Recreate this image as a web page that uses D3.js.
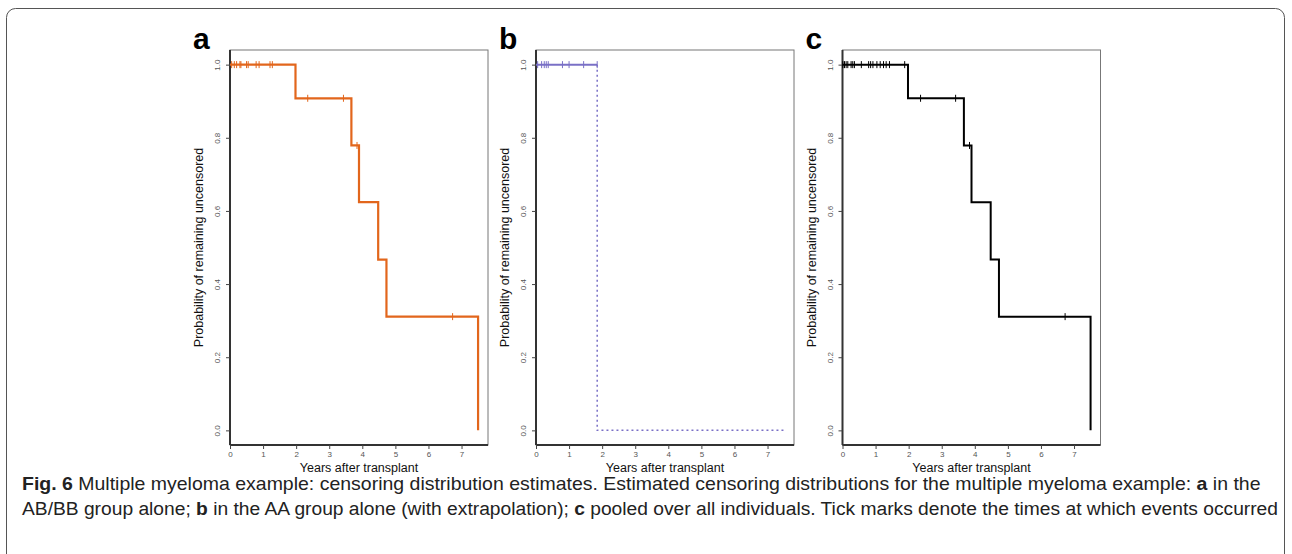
<!DOCTYPE html>
<html>
<head>
<meta charset="utf-8">
<script src="https://cdn.jsdelivr.net/npm/d3@7"></script>
<style>
  body { margin: 0; background: #fff; }
  svg { display: block; }
</style>
</head>
<body>
<div id="chart"></div>
<script>
// panel a: AB/BB group
const aTimes = [0, 1.98, 3.67, 3.9, 4.48, 4.73, 7.5];
const aSurv = [1, 0.908, 0.779, 0.624, 0.467, 0.311, 0];
const aCensorT = [0.05, 0.13, 0.2, 0.3, 0.33, 0.5, 0.55, 0.79, 0.88, 1.21, 1.28, 2.35, 3.43, 3.84, 6.73];

// panel b: AA group (extrapolated after last time)
const bTimes = [0, 1.85];
const bSurv = [1, 1];
const bExtraTimes = [1.85, 1.85, 7.5];
const bExtraSurv = [1, 0, 0];
const bCensorT = [0.05, 0.17, 0.25, 0.31, 0.37, 0.8, 1.0, 1.44, 1.85];

// panel c: pooled
const cTimes = aTimes;
const cSurv = aSurv;
const cCensorT = [0.01, 0.06, 0.11, 0.16, 0.26, 0.31, 0.36, 0.57, 0.79, 0.85, 0.92, 1.04, 1.14, 1.24, 1.32, 1.42, 1.88, 2.36, 3.42, 3.84, 6.73];

const xTicks = [0, 1, 2, 3, 4, 5, 6, 7];
const yTicks = [0, 0.2, 0.4, 0.6, 0.8, 1.0];

const W = 1292, H = 554;
const svg = d3.select("#chart").append("svg").attr("width", W).attr("height", H);

// outer frame
svg.append("rect")
  .attr("x", 6.5).attr("y", 8.5).attr("width", 1278).attr("height", 580)
  .attr("rx", 9).attr("fill", "none").attr("stroke", "#555").attr("stroke-width", 1);

function stepValue(times, surv, t) {
  let v = surv[0];
  for (let i = 0; i < times.length; i++) if (times[i] <= t) v = surv[i];
  return v;
}

function drawPanel(left, letter, cfg) {
  const top = 50, bottom = 445, width = 258;
  const x = d3.scaleLinear().domain([0, 7.8]).range([left, left + width]);
  const y = d3.scaleLinear().domain([-0.04, 1.04]).range([bottom, top]);
  const g = svg.append("g");

  // box
  g.append("rect").attr("x", left).attr("y", top).attr("width", width).attr("height", bottom - top)
    .attr("fill", "none").attr("stroke", "#777").attr("stroke-width", 1);

  // y axis
  const yAxis = g.append("g").attr("transform", `translate(${left},0)`)
    .call(d3.axisLeft(y).tickValues(yTicks).tickFormat(d3.format(".1f")).tickSize(4).tickPadding(0));
  yAxis.select(".domain").attr("d", `M0,${top}V${bottom}`).attr("stroke", "#333").attr("stroke-width", 2);
  yAxis.selectAll(".tick line").attr("stroke", "#444");
  yAxis.selectAll(".tick text")
    .attr("x", 0).attr("dy", null)
    .attr("transform", "translate(-10,0) rotate(-90)")
    .attr("text-anchor", "middle")
    .attr("font-family", "Liberation Sans, Arial, sans-serif")
    .attr("font-size", 8).attr("fill", "#555");

  // x axis
  const xAxis = g.append("g").attr("transform", `translate(0,${bottom})`)
    .call(d3.axisBottom(x).tickValues(xTicks).tickFormat(d3.format("d")).tickSize(4).tickPadding(2));
  xAxis.select(".domain").attr("d", `M${left},0H${left + width}`).attr("stroke", "#333").attr("stroke-width", 2);
  xAxis.selectAll(".tick line").attr("stroke", "#444");
  xAxis.selectAll(".tick text")
    .attr("font-family", "Liberation Sans, Arial, sans-serif")
    .attr("font-size", 8).attr("fill", "#555");

  // labels
  g.append("text").attr("transform", `translate(${left - 27},${(top + bottom) / 2}) rotate(-90)`)
    .attr("text-anchor", "middle").attr("font-family", "Liberation Sans, Arial, sans-serif")
    .attr("font-size", 12.5).attr("fill", "#111").text("Probability of remaining uncensored");
  g.append("text").attr("x", left + 129).attr("y", 472)
    .attr("text-anchor", "middle").attr("font-family", "Liberation Sans, Arial, sans-serif")
    .attr("font-size", 12.5).attr("fill", "#111").text("Years after transplant");
  g.append("text").attr("x", left - 37).attr("y", 49)
    .attr("font-family", "Liberation Sans, Arial, sans-serif").attr("font-weight", "bold")
    .attr("font-size", 30).attr("fill", "#000").text(letter);

  const line = d3.line().x((d) => x(d[0])).y((d) => y(d[1])).curve(d3.curveStepAfter);

  g.append("path").datum(d3.zip(cfg.times, cfg.surv)).attr("d", line)
    .attr("fill", "none").attr("stroke", cfg.color).attr("stroke-width", cfg.lw);

  if (cfg.extraTimes) {
    g.append("path").datum(d3.zip(cfg.extraTimes, cfg.extraSurv))
      .attr("d", d3.line().x((d) => x(d[0])).y((d) => y(d[1])))
      .attr("fill", "none").attr("stroke", cfg.color).attr("stroke-width", 1.5)
      .attr("stroke-dasharray", "2,3");
  }

  // censoring tick marks
  g.selectAll(".cens").data(cfg.censor).enter().append("line")
    .attr("class", "cens")
    .attr("x1", (d) => x(d)).attr("x2", (d) => x(d))
    .attr("y1", (d) => y(stepValue(cfg.times, cfg.surv, d)) - 3.5)
    .attr("y2", (d) => y(stepValue(cfg.times, cfg.surv, d)) + 3.5)
    .attr("stroke", cfg.color).attr("stroke-width", 1);
}

drawPanel(230, "a", { times: aTimes, surv: aSurv, censor: aCensorT, color: "#e2661c", lw: 2.2 });
drawPanel(536, "b", { times: bTimes, surv: bSurv, extraTimes: bExtraTimes, extraSurv: bExtraSurv,
  censor: bCensorT, color: "#7a70c6", lw: 2 });
drawPanel(842.5, "c", { times: cTimes, surv: cSurv, censor: cCensorT, color: "#000", lw: 2 });

// caption
const captionLines = [
  { y: 490, width: 1239, parts: [["Fig. 6", true], [" Multiple myeloma example: censoring distribution estimates. Estimated censoring distributions for the multiple myeloma example: ", false], ["a", true], [" in the", false]] },
  { y: 515, width: 1257, parts: [["AB/BB group alone; ", false], ["b", true], [" in the AA group alone (with extrapolation); ", false], ["c", true], [" pooled over all individuals. Tick marks denote the times at which events occurred", false]] }
];

captionLines.forEach((ln) => {
  const t = svg.append("text").attr("x", 0).attr("y", 0)
    .attr("font-family", "Liberation Sans Narrow, Liberation Sans, Arial, sans-serif")
    .attr("font-size", 18).attr("fill", "#222").attr("xml:space", "preserve");
  ln.parts.forEach(([s, b]) => {
    t.append("tspan").attr("font-weight", b ? "bold" : "normal").text(s);
  });
  const w = t.node().getComputedTextLength();
  t.attr("transform", `translate(22,${ln.y}) scale(${ln.width / w},1)`);
});
</script>
</body>
</html>
